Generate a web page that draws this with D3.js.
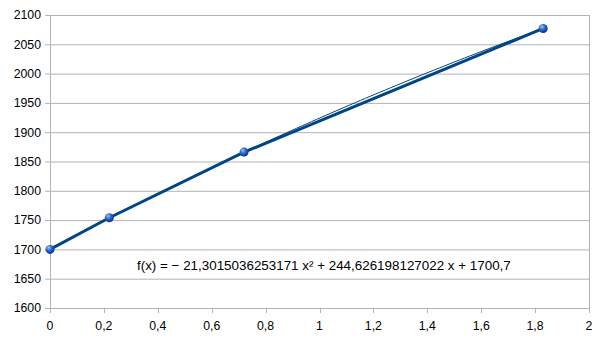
<!DOCTYPE html>
<html>
<head>
<meta charset="utf-8">
<script src="https://cdn.jsdelivr.net/npm/d3@7"></script>
<style>
  body { margin: 0; background: #fff; }
  text { font-family: "Liberation Sans", Arial, sans-serif; fill: #000; }
</style>
</head>
<body>
<svg id="chart" width="605" height="340"></svg>
<script>
// data
var xValues = [0, 0.22, 0.72, 1.83]
var yValues = [1700, 1754, 1866, 2077]
// trendline coefficients (a, b, c) for a*x^2 + b*x + c
var trendCoef = [-21.3015036253171, 244.626198127022, 1700.7]
var equationText = "f(x) = \u2212 21,3015036253171 x\u00b2 + 244,626198127022 x + 1700,7"
var xTicks = [0, 0.2, 0.4, 0.6, 0.8, 1, 1.2, 1.4, 1.6, 1.8, 2]
var yTicks = [1600, 1650, 1700, 1750, 1800, 1850, 1900, 1950, 2000, 2050, 2100]

var margin = {top: 15, right: 16, bottom: 32, left: 50}
var width = 605 - margin.left - margin.right
var height = 340 - margin.top - margin.bottom

var svg = d3.select("#chart")
var g = svg.append("g")
    .attr("transform", "translate(" + margin.left + "," + margin.top + ")")

var x = d3.scaleLinear().domain([0, 2]).range([0, width])
var y = d3.scaleLinear().domain([1600, 2100]).range([height, 0])

var fmt = function (d) { return String(d).replace(".", ",") }

// gradient for the ball markers
var defs = svg.append("defs")
var grad = defs.append("radialGradient")
    .attr("id", "ball")
    .attr("cx", "0.4").attr("cy", "0.35").attr("r", "0.65")
    .attr("fx", "0.35").attr("fy", "0.3")
grad.append("stop").attr("offset", "0").attr("stop-color", "#a9c8f5")
grad.append("stop").attr("offset", "0.45").attr("stop-color", "#2f6fd6")
grad.append("stop").attr("offset", "1").attr("stop-color", "#0b2f80")

// grid lines
g.append("g")
    .selectAll("line")
    .data(yTicks)
    .enter()
    .append("line")
    .attr("x1", -5)
    .attr("x2", width)
    .attr("y1", function (d) { return y(d) + 0.5 })
    .attr("y2", function (d) { return y(d) + 0.5 })
    .attr("stroke", "#b3b3b3")
    .attr("stroke-width", 1)

// right border
g.append("line")
    .attr("x1", width + 0.5).attr("x2", width + 0.5)
    .attr("y1", 0).attr("y2", height + 5)
    .attr("stroke", "#b3b3b3")

// x axis ticks
g.append("g")
    .selectAll("line")
    .data(xTicks)
    .enter()
    .append("line")
    .attr("x1", function (d) { return Math.round(x(d)) + 0.5 })
    .attr("x2", function (d) { return Math.round(x(d)) + 0.5 })
    .attr("y1", height)
    .attr("y2", height + 5)
    .attr("stroke", "#b3b3b3")

// left axis line
g.append("line")
    .attr("x1", 0.5).attr("x2", 0.5)
    .attr("y1", 0).attr("y2", height + 5)
    .attr("stroke", "#b3b3b3")

// y labels
g.append("g")
    .selectAll("text")
    .data(yTicks)
    .enter()
    .append("text")
    .attr("x", -9)
    .attr("y", function (d) { return y(d) })
    .attr("dy", "0.35em")
    .attr("text-anchor", "end")
    .style("font-size", "12.3px")
    .text(function (d) { return d })

// x labels
g.append("g")
    .selectAll("text")
    .data(xTicks)
    .enter()
    .append("text")
    .attr("x", function (d) { return x(d) })
    .attr("y", height + 22)
    .attr("text-anchor", "middle")
    .style("font-size", "12.3px")
    .text(fmt)

// trend line (from displayed coefficients)
var trendX = d3.range(0, 101).map(function (i) { return xValues[0] + (xValues[xValues.length - 1] - xValues[0]) * i / 100 })
var trendLine = d3.line()
    .x(function (d) { return x(d) })
    .y(function (d) { return y(trendCoef[0] * d * d + trendCoef[1] * d + trendCoef[2]) })
g.append("path")
    .datum(trendX)
    .attr("d", trendLine)
    .attr("fill", "none")
    .attr("stroke", "#004586")
    .attr("stroke-width", 1)

// data line
var pts = xValues.map(function (d, i) { return {x: d, y: yValues[i]} })
var line = d3.line()
    .x(function (d) { return x(d.x) })
    .y(function (d) { return y(d.y) })
g.append("path")
    .datum(pts)
    .attr("d", line)
    .attr("fill", "none")
    .attr("stroke", "#004586")
    .attr("stroke-width", 3)
    .attr("stroke-linejoin", "round")

// markers
g.append("g")
    .selectAll("circle")
    .data(pts)
    .enter()
    .append("circle")
    .attr("cx", function (d) { return x(d.x) })
    .attr("cy", function (d) { return y(d.y) })
    .attr("r", 4.5)
    .attr("fill", "url(#ball)")

// equation
g.append("text")
    .attr("x", 87)
    .attr("y", 255)
    .style("font-size", "13.4px")
    .text(equationText)
</script>
</body>
</html>
